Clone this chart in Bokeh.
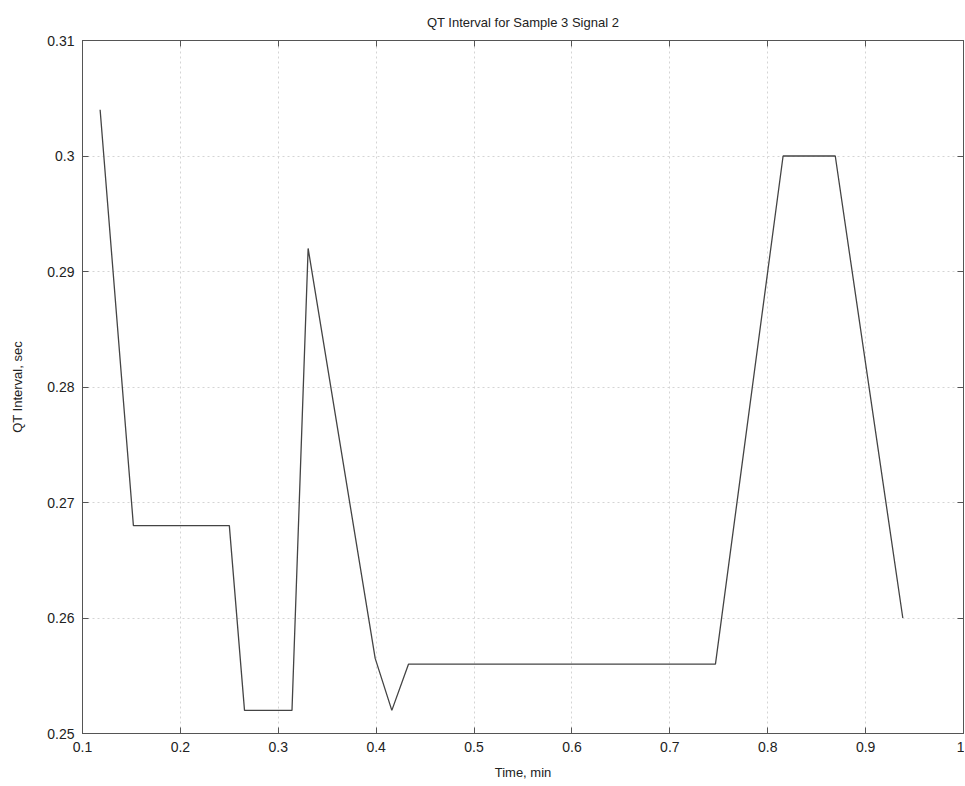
from bokeh.plotting import figure
from bokeh.models import FixedTicker, LinearAxis, Range1d
from bokeh.embed import file_html
from bokeh.resources import INLINE

time_min = [0.118, 0.152, 0.250, 0.2655, 0.314, 0.3305, 0.399, 0.416, 0.433, 0.7466, 0.8157, 0.869, 0.938]
qt_sec = [0.304, 0.268, 0.268, 0.252, 0.252, 0.292, 0.2565, 0.252, 0.256, 0.256, 0.300, 0.300, 0.260]

x_ticks = [0.1, 0.2, 0.3, 0.4, 0.5, 0.6, 0.7, 0.8, 0.9, 1.0]
x_labels = ["0.1", "0.2", "0.3", "0.4", "0.5", "0.6", "0.7", "0.8", "0.9", "1"]
y_ticks = [0.25, 0.26, 0.27, 0.28, 0.29, 0.30, 0.31]
y_labels = ["0.25", "0.26", "0.27", "0.28", "0.29", "0.3", "0.31"]

FONT = "Liberation Sans"
AX = "#555555"

p = figure(width=964, height=785, output_backend="svg", toolbar_location=None,
           x_range=Range1d(0.1, 1.0), y_range=Range1d(0.25, 0.31),
           min_border_left=82, min_border_right=1, min_border_top=40, min_border_bottom=52,
           title="QT Interval for Sample 3 Signal 2")
p.title.align = "center"
p.title.text_font = FONT
p.title.text_font_size = "13px"
p.title.text_font_style = "normal"
p.title.text_color = "#222222"
p.title.offset = 0
p.title.standoff = 22

p.line(time_min, qt_sec, line_color="#444444", line_width=1.3)

p.xaxis.ticker = FixedTicker(ticks=x_ticks)
p.yaxis.ticker = FixedTicker(ticks=y_ticks)
p.xaxis.major_label_overrides = {t: l for t, l in zip(x_ticks, x_labels)}
p.yaxis.major_label_overrides = {t: l for t, l in zip(y_ticks, y_labels)}
p.xaxis.axis_label = "Time, min"
p.yaxis.axis_label = "QT Interval, sec"

for ax in [p.xaxis[0], p.yaxis[0]]:
    ax.axis_label_text_font = FONT
    ax.axis_label_text_font_size = "13px"
    ax.axis_label_text_font_style = "normal"
    ax.axis_label_text_color = "#222222"
    ax.major_label_text_font = FONT
    ax.major_label_text_font_size = "14px"
    ax.major_label_text_color = "#222222"
    ax.axis_line_color = AX
    ax.major_tick_line_color = AX
    ax.major_tick_in = 6
    ax.major_tick_out = 0
    ax.minor_tick_line_color = None
p.xaxis.major_label_standoff = 8
p.yaxis.major_label_standoff = 8
p.xaxis.axis_label_standoff = 10
p.yaxis.axis_label_standoff = 19

top = LinearAxis(ticker=FixedTicker(ticks=x_ticks), major_label_text_font_size="0px",
                 major_tick_in=6, major_tick_out=0, minor_tick_line_color=None,
                 axis_line_color=AX, major_tick_line_color=AX, major_label_text_color=None)
right = LinearAxis(ticker=FixedTicker(ticks=y_ticks), major_label_text_font_size="0px",
                   major_tick_in=6, major_tick_out=0, minor_tick_line_color=None,
                   axis_line_color=AX, major_tick_line_color=AX, major_label_text_color=None)
p.add_layout(top, "above")
p.add_layout(right, "right")

p.grid.grid_line_color = "#d4d4d4"
p.grid.grid_line_dash = "2 3"
p.grid.grid_line_width = 1
p.outline_line_color = AX

open("out.html", "w").write(file_html(p, INLINE))
